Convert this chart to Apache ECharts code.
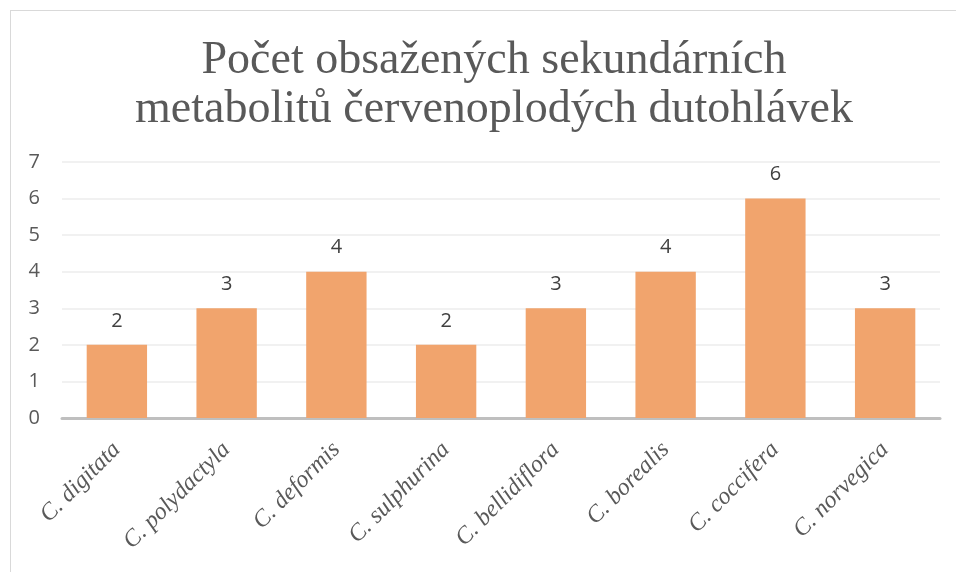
<!DOCTYPE html>
<html>
<head>
<meta charset="utf-8">
<script src="https://cdn.jsdelivr.net/npm/echarts@6/dist/echarts.min.js"></script>
<style>
  html, body { margin: 0; padding: 0; background: #fff; }
  #frame { position: absolute; left: 10px; top: 10px; width: 960px; height: 580px; border: 1px solid #d9d9d9; }
  #chart { width: 956px; height: 572px; position: absolute; left: 0; top: 0; }
</style>
</head>
<body>
<div id="frame"></div>
<div id="chart"></div>
<script>
const titleText = "Počet obsažených sekundárních\nmetabolitů červenoplodých dutohlávek";
const species = ["C. digitata", "C. polydactyla", "C. deformis", "C. sulphurina",
  "C. bellidiflora", "C. borealis", "C. coccifera", "C. norvegica"];
const counts = [2, 3, 4, 2, 3, 4, 6, 3];

const chart = echarts.init(document.getElementById("chart"));

chart.setOption({
  animation: false,
  title: {
    text: titleText,
    left: 489,
    textAlign: "center",
    top: 31,
    textStyle: {
      fontFamily: "Liberation Serif",
      fontWeight: "normal",
      fontSize: 46,
      lineHeight: 49,
      color: "#595959"
    }
  },
  grid: { left: 62, right: 16, top: 162, bottom: 154, containLabel: false },
  xAxis: {
    type: "category",
    data: species,
    axisLine: { lineStyle: { color: "#bfbfbf", width: 3 } },
    axisTick: { show: false },
    axisLabel: {
      rotate: 45,
      margin: 28,
      fontFamily: "Liberation Serif",
      fontStyle: "italic",
      fontSize: 24,
      color: "#595959"
    }
  },
  yAxis: {
    type: "value",
    min: 0,
    max: 7,
    interval: 1,
    axisLine: { show: false },
    axisTick: { show: false },
    splitLine: { lineStyle: { color: "#ececec", width: 1.5 } },
    axisLabel: {
      margin: 22,
      fontFamily: "Open Sans",
      fontSize: 20,
      color: "#595959"
    }
  },
  series: [{
    type: "bar",
    data: counts,
    barWidth: "55%",
    itemStyle: { color: "#f1a46d" },
    label: {
      show: true,
      position: "top",
      distance: 14,
      fontFamily: "Open Sans",
      fontSize: 20,
      color: "#404040"
    }
  }]
});
</script>
</body>
</html>
